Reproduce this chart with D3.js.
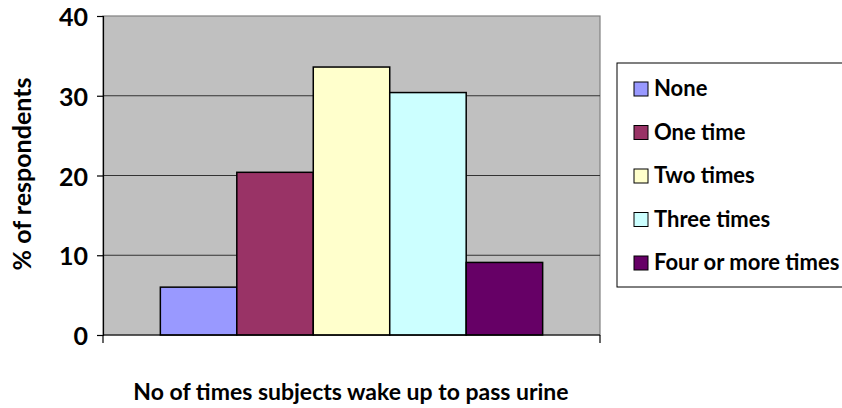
<!DOCTYPE html>
<html>
<head>
<meta charset="utf-8">
<script src="https://cdn.jsdelivr.net/npm/d3@7"></script>
<style>
  body { margin: 0; background: #fff; }
  svg text { font-family: Lato, "Open Sans", sans-serif; font-weight: bold; fill: #000; }
</style>
</head>
<body>
<div id="svg-container"></div>
<script>
// data
const categories = ["None", "One time", "Two times", "Three times", "Four or more times"];
const values = [6.0, 20.4, 33.6, 30.4, 9.1];
const colors = ["#9999FF", "#993366", "#FFFFCC", "#CCFFFF", "#660066"];
const yTicks = [0, 10, 20, 30, 40];

const width = 842, height = 408;
const plot = { left: 103, right: 600, top: 16, bottom: 335 };

const svg = d3.select("#svg-container").append("svg")
  .attr("width", width).attr("height", height);

// scales
const yScale = d3.scaleLinear().domain([0, 40]).range([plot.bottom, plot.top]);
const xScale = d3.scaleBand().domain(categories)
  .range([plot.left, plot.right]).paddingInner(0).paddingOuter(0.75);
const colorScale = d3.scaleOrdinal().domain(categories).range(colors);

// plot background
svg.append("rect")
  .attr("x", plot.left).attr("y", plot.top)
  .attr("width", plot.right - plot.left).attr("height", plot.bottom - plot.top)
  .attr("fill", "#C0C0C0").attr("stroke", "#808080").attr("stroke-width", 1.2);

// gridlines
svg.append("g")
  .selectAll("line")
  .data(yTicks.filter(d => d > 0 && d < 40))
  .enter().append("line")
  .attr("x1", plot.left).attr("x2", plot.right)
  .attr("y1", d => yScale(d)).attr("y2", d => yScale(d))
  .attr("stroke", "#333").attr("stroke-width", 1);

// bars
svg.append("g")
  .selectAll("rect")
  .data(categories)
  .enter().append("rect")
  .attr("x", d => xScale(d))
  .attr("y", (d, i) => yScale(values[i]))
  .attr("width", xScale.bandwidth())
  .attr("height", (d, i) => yScale(0) - yScale(values[i]))
  .attr("fill", d => colorScale(d))
  .attr("stroke", "#000").attr("stroke-width", 1.5);

// y axis
const yAxis = d3.axisLeft(yScale).tickValues(yTicks).tickSize(6).tickPadding(9);
const gy = svg.append("g").attr("transform", `translate(${plot.left},0)`).call(yAxis);
gy.select(".domain").attr("stroke", "#000").attr("stroke-width", 1.2);
gy.selectAll(".tick line").attr("stroke", "#000").attr("stroke-width", 1.2);
gy.selectAll(".tick text").style("font-size", "25px").attr("dy", "0.38em");

// x axis line with end ticks
const gx = svg.append("g");
gx.append("line")
  .attr("x1", plot.left).attr("x2", plot.right)
  .attr("y1", plot.bottom).attr("y2", plot.bottom)
  .attr("stroke", "#000").attr("stroke-width", 1.2);
gx.selectAll(".edge")
  .data([plot.left, plot.right])
  .enter().append("line")
  .attr("x1", d => d).attr("x2", d => d)
  .attr("y1", plot.bottom).attr("y2", plot.bottom + 8)
  .attr("stroke", "#000").attr("stroke-width", 1.2);

// axis titles
svg.append("text")
  .attr("transform", "translate(31, 174) rotate(-90)")
  .attr("text-anchor", "middle")
  .style("font-size", "25px")
  .text("% of respondents");

svg.append("text")
  .attr("x", 351).attr("y", 400)
  .attr("text-anchor", "middle")
  .style("font-size", "23px")
  .text("No of times subjects wake up to pass urine");

// legend
const legend = svg.append("g");
legend.append("rect")
  .attr("x", 617).attr("y", 63)
  .attr("width", 240).attr("height", 224)
  .attr("fill", "#fff").attr("stroke", "#000").attr("stroke-width", 1);

legend.selectAll(".swatch")
  .data(categories)
  .enter().append("rect")
  .attr("x", 634)
  .attr("y", (d, i) => 82 + 43.5 * i)
  .attr("width", 14).attr("height", 14)
  .attr("fill", d => colorScale(d))
  .attr("stroke", "#000").attr("stroke-width", 1);

legend.selectAll(".label")
  .data(categories)
  .enter().append("text")
  .attr("x", 654)
  .attr("y", (d, i) => 96 + 43.5 * i)
  .style("font-size", "22px")
  .text(d => d);
</script>
</body>
</html>
